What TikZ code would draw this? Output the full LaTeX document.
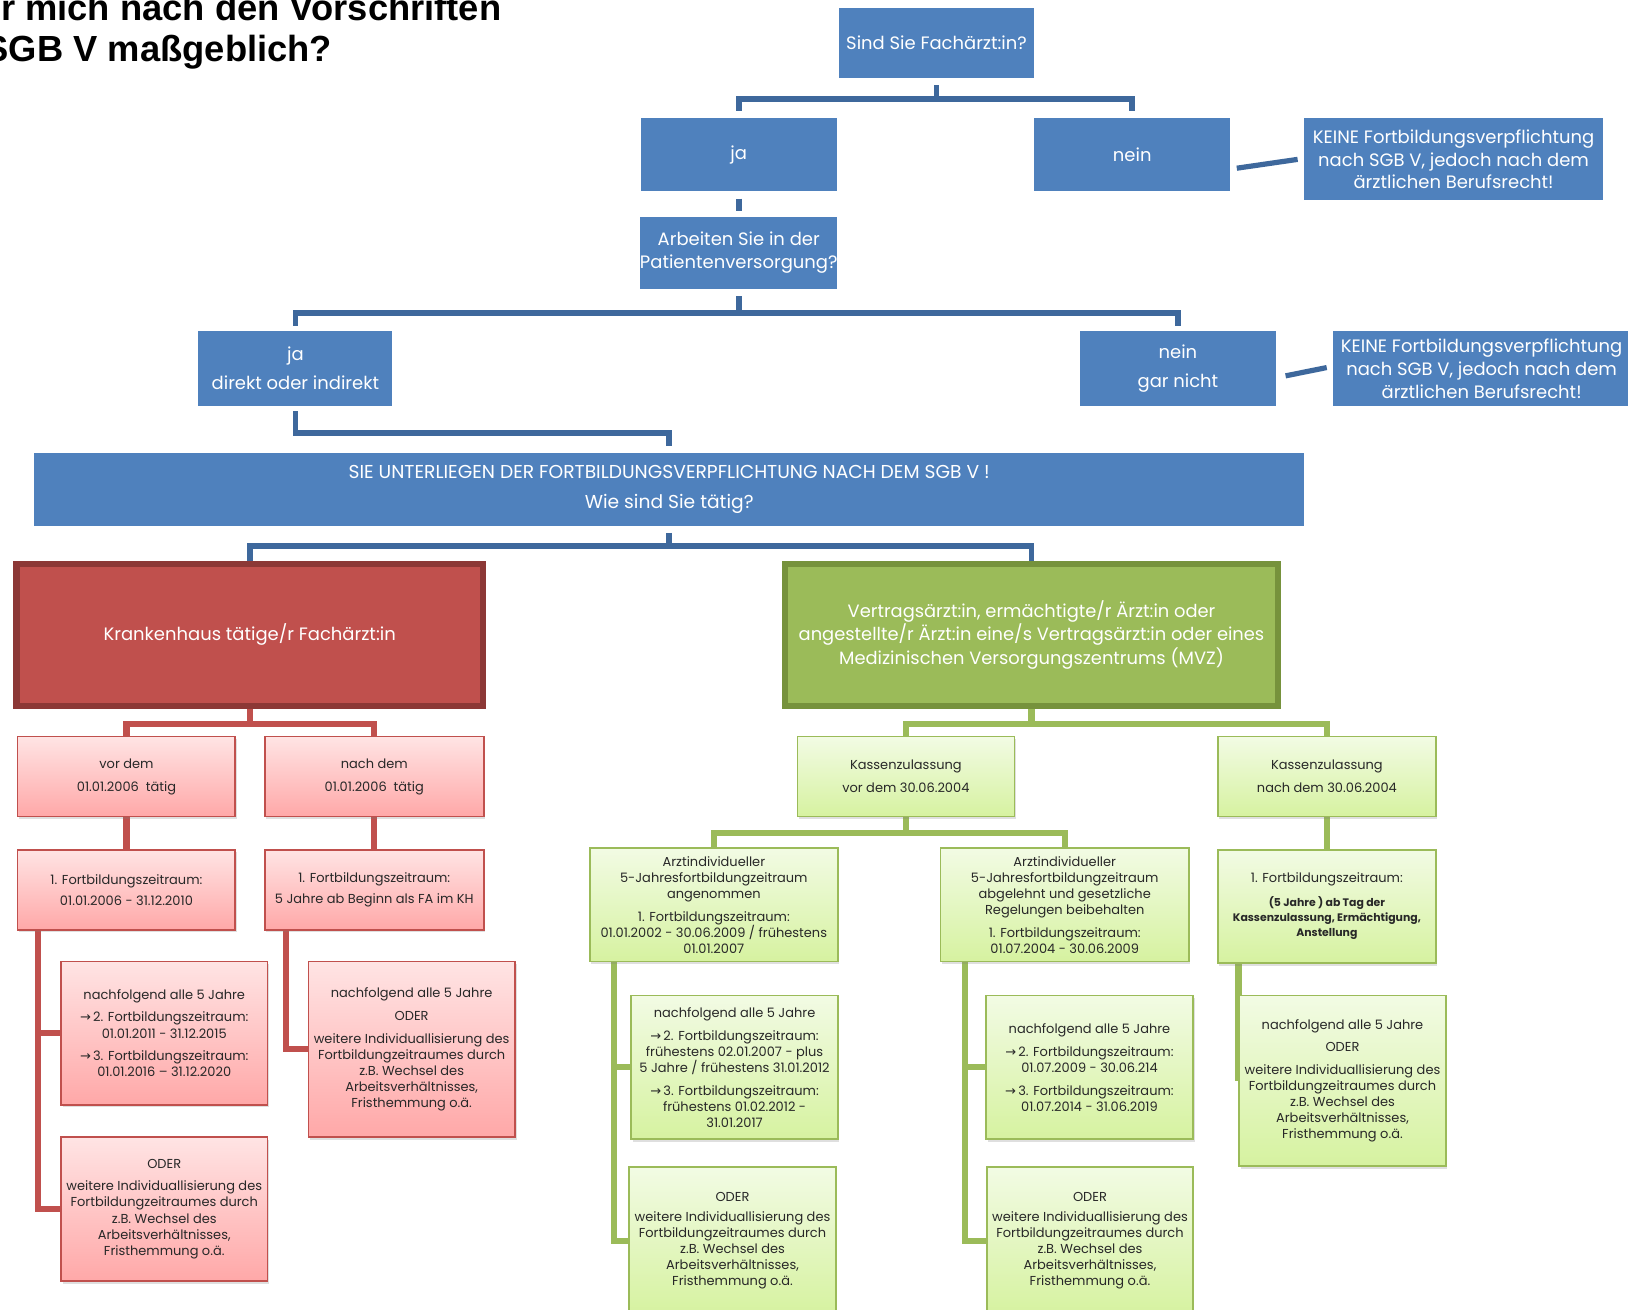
\documentclass[tikz,border=0pt]{standalone}
\usepackage{fontspec}
\setmainfont{Poppins}
\newfontfamily\titlefont{Liberation Sans}
\newfontfamily\symfont{DejaVu Sans}
\usetikzlibrary{shadows,backgrounds,calc}
\definecolor{bfill}{RGB}{79,129,189}
\definecolor{bline}{RGB}{62,104,156}
\definecolor{rfill}{RGB}{192,80,77}
\definecolor{rdark}{RGB}{140,56,54}
\definecolor{gfill}{RGB}{155,187,89}
\definecolor{gdark}{RGB}{118,146,60}
\definecolor{rtop}{RGB}{255,228,228}
\definecolor{rbot}{RGB}{255,168,168}
\definecolor{gtop}{RGB}{242,251,228}
\definecolor{gbot}{RGB}{214,242,160}
\definecolor{txt}{RGB}{40,40,40}
\newcommand\fblue{\fontsize{17.3}{22}\selectfont}
\newcommand\fsie{\fontsize{18}{22}\selectfont}
\newcommand\fgbig{\fontsize{17.2}{23}\selectfont}
\newcommand\fsm{\fontsize{12.5}{15.5}\selectfont}
\newcommand\fsmg{\fontsize{12.5}{14.5}\selectfont}
\newcommand\fsmb{\fontsize{10.5}{14.5}\selectfont\bfseries}
\newcommand\myarrow{{\symfont →}\,}
\begin{document}
\begin{tikzpicture}[x=1pt,y=-1pt,
  wh/.style 2 args={minimum width=#1,minimum height=#2},
  bbox/.style={fill=bfill,text=white,font=\fblue,align=center,inner sep=0pt},
  rbigbox/.style={fill=rfill,draw=rdark,line width=6pt,text=white,font=\fblue,align=center,inner sep=0pt},
  gbigbox/.style={fill=gfill,draw=gdark,line width=6pt,text=white,font=\fgbig,align=center,inner sep=0pt},
  rsm/.style={top color=rtop,bottom color=rbot,draw=rfill,line width=1.5pt,text=txt,font=\fsm,align=center,inner sep=0pt,
    drop shadow={shadow xshift=1.5pt,shadow yshift=-2.5pt,opacity=0.25}},
  gsm/.style={top color=gtop,bottom color=gbot,draw=gfill,line width=1.5pt,text=txt,font=\fsm,align=center,inner sep=0pt,
    drop shadow={shadow xshift=1.5pt,shadow yshift=-2.5pt,opacity=0.25}},
  bl/.style={draw=bline,line width=5.5pt},
  rl/.style={draw=rfill,line width=6pt},
  gl/.style={draw=gfill,line width=6pt}]
\useasboundingbox (0,0) rectangle (1568,1261);

% title
\node[font=\titlefont\bfseries\fontsize{35}{40}\selectfont,anchor=base east,inner sep=0pt] (t1) at (483,20) {r mich nach den Vorschriften};
\node[font=\titlefont\bfseries\fontsize{35}{40}\selectfont,anchor=base east,inner sep=0pt] (t2) at (320,59.5) {SGB V maßgeblich?};

% blue part
\node[bbox,wh={188pt}{67pt}] (q1) at (902,41.5) {Sind Sie Fachärzt:in?};
\node[bbox,wh={189pt}{70pt}] (ja1) at (711.5,149) {ja};
\node[bbox,wh={189pt}{70pt}] (nein1) at (1090.5,149) {nein};
\node[bbox,wh={288pt}{79pt}] (keine1) at (1400,153.5) {KEINE Fortbildungsverpflichtung\\nach SGB V, jedoch nach dem\\ärztlichen Berufsrecht!};
\node[bbox,wh={189pt}{69pt}] (arb) at (711.5,243.5) {Arbeiten Sie in der\\Patientenversorgung?};
\node[bbox,wh={187pt}{72pt}] (ja2) at (284.5,355) {ja\\[6pt]direkt oder indirekt};
\node[bbox,wh={189pt}{72pt}] (nein2) at (1134.5,355) {nein\\[6pt]gar nicht};
\node[bbox,wh={286pt}{72pt}] (keine2) at (1427,355) {KEINE Fortbildungsverpflichtung\\nach SGB V, jedoch nach dem\\ärztlichen Berufsrecht!};
\node[bbox,font=\fsie,wh={1223pt}{71pt}] (sie) at (644.5,471.5) {SIE UNTERLIEGEN DER FORTBILDUNGSVERPFLICHTUNG NACH DEM SGB V !\\[7pt]Wie sind Sie tätig?};

% big boxes
\node[rbigbox,wh={449pt}{137pt}] (rb) at (240.5,611.5) {Krankenhaus tätige/r Fachärzt:in};
\node[gbigbox,wh={475pt}{137pt}] (gb) at (993.5,611.5) {Vertragsärzt:in, ermächtigte/r Ärzt:in oder\\angestellte/r Ärzt:in eine/s Vertragsärzt:in oder eines\\Medizinischen Versorgungszentrums (MVZ)};

% red column
\node[rsm,wh={209.6pt}{77pt}] (r1) at (121.8,748) {vor dem\\[6.5pt]01.01.2006\ \ tätig};
\node[rsm,wh={211pt}{77pt}] (r2) at (360.5,748) {nach dem\\[6.5pt]01.01.2006\ \ tätig};
\node[rsm,wh={209.6pt}{77pt}] (r3) at (121.8,857) {1. Fortbildungszeitraum:\\[5pt]01.01.2006 - 31.12.2010};
\node[rsm,wh={211pt}{77pt}] (r4) at (360.5,857) {1. Fortbildungszeitraum:\\[5pt]5 Jahre ab Beginn als FA im KH};
\node[rsm,wh={199pt}{138pt}] (r5) at (158.2,995) {nachfolgend alle 5 Jahre\\[6.5pt]\myarrow 2. Fortbildungszeitraum:\\01.01.2011 - 31.12.2015\\[6.5pt]\myarrow 3. Fortbildungszeitraum:\\01.01.2016 – 31.12.2020};
\node[rsm,wh={199pt}{139pt}] (r6) at (158.2,1164.5) {ODER\\[6pt]weitere Individuallisierung des\\Fortbildungzeitraumes durch\\z.B. Wechsel des\\Arbeitsverhältnisses,\\Fristhemmung o.ä.};
\node[rsm,wh={199pt}{169pt}] (r7) at (396.5,1010.5) {nachfolgend alle 5 Jahre\\[6.5pt]ODER\\[6.5pt]weitere Individuallisierung des\\Fortbildungzeitraumes durch\\z.B. Wechsel des\\Arbeitsverhältnisses,\\Fristhemmung o.ä.};

% green column
\node[gsm,wh={209pt}{77pt}] (g1) at (872.5,748) {Kassenzulassung\\[6.5pt]vor dem 30.06.2004};
\node[gsm,wh={210pt}{77pt}] (g2) at (1278,748) {Kassenzulassung\\[6.5pt]nach dem 30.06.2004};
\node[gsm,wh={239pt}{109pt}] (gA) at (687.5,871.5) {Arztindividueller\\5-Jahresfortbildungzeitraum\\angenommen\\[6.5pt]1. Fortbildungszeitraum:\\01.01.2002 - 30.06.2009 / frühestens\\01.01.2007};
\node[gsm,wh={239pt}{109pt}] (gB) at (1025.5,871.5) {Arztindividueller\\5-Jahresfortbildungzeitraum\\abgelehnt und gesetzliche\\Regelungen beibehalten\\[6.5pt]1. Fortbildungszeitraum:\\01.07.2004 - 30.06.2009};
\node[gsm,wh={199pt}{138pt}] (gC) at (707.5,1028) {nachfolgend alle 5 Jahre\\[6.5pt]\myarrow 2. Fortbildungszeitraum:\\frühestens 02.01.2007 - plus\\5 Jahre / frühestens 31.01.2012\\[6.5pt]\myarrow 3. Fortbildungszeitraum:\\frühestens 01.02.2012 -\\31.01.2017};
\node[gsm,wh={199.4pt}{138pt}] (gD) at (1049.3,1028) {nachfolgend alle 5 Jahre\\[6.5pt]\myarrow 2. Fortbildungszeitraum:\\01.07.2009 - 30.06.214\\[6.5pt]\myarrow 3. Fortbildungszeitraum:\\01.07.2014 - 31.06.2019};
\node[gsm,wh={199pt}{142pt}] (gE) at (705.5,1195) {ODER\\[4pt]weitere Individuallisierung des\\Fortbildungzeitraumes durch\\z.B. Wechsel des\\Arbeitsverhältnisses,\\Fristhemmung o.ä.};
\node[gsm,wh={198pt}{142pt}] (gF) at (1049.8,1195) {ODER\\[4pt]weitere Individuallisierung des\\Fortbildungzeitraumes durch\\z.B. Wechsel des\\Arbeitsverhältnisses,\\Fristhemmung o.ä.};
\node[gsm,font=\fsmg,wh={210pt}{109pt}] (g3) at (1278,873) {1. Fortbildungszeitraum:\\[8.5pt]\fsmb (5 Jahre ) ab Tag der\\\fsmb Kassenzulassung, Ermächtigung,\\\fsmb Anstellung};
\node[gsm,wh={199pt}{164pt}] (g4) at (1293,1041) {nachfolgend alle 5 Jahre\\[6pt]ODER\\[6pt]weitere Individuallisierung des\\Fortbildungzeitraumes durch\\z.B. Wechsel des\\Arbeitsverhältnisses,\\Fristhemmung o.ä.};

\begin{pgfonlayer}{background}
\fill[white] (0,0) rectangle (1568,1261);
% blue connectors
\draw[bl] ([yshift=-7pt]q1.south) -- ([yshift=-20pt]q1.south);
\draw[bl] ([yshift=7pt]ja1.north) |- ([yshift=-20pt]q1.south) -| ([yshift=7pt]nein1.north);
\draw[bl] ([yshift=-7pt]ja1.south) -- ([yshift=6pt]arb.north);
\draw[bl] ([yshift=-7pt]arb.south) -- ([yshift=-23pt]arb.south);
\draw[bl] ([yshift=5pt]ja2.north) |- ([yshift=-23pt]arb.south) -| ([yshift=5pt]nein2.north);
\draw[bl] ([yshift=-5pt]ja2.south) |- ([yshift=19pt]sie.north) -- ([yshift=6pt]sie.north);
\draw[bl,line width=5pt] ([xshift=6pt,yshift=-13pt]nein1.east) -- ([xshift=-6pt]keine1.west);
\draw[bl,line width=5pt] ([xshift=9pt,yshift=-7pt]nein2.east) -- ([xshift=-6pt,yshift=1pt]keine2.west);
\draw[bl] ([yshift=-6pt]sie.south) -- ([yshift=-19pt]sie.south);
\draw[bl] (rb.north) |- ([yshift=-19pt]sie.south) -| (gb.north);
% red connectors
\draw[rl] (rb.south) -- ([yshift=-14.5pt]rb.south);
\draw[rl] (r1.north) |- ([yshift=-14.5pt]rb.south) -| (r2.north);
\draw[rl] (r1.south) -- (r3.north);
\draw[rl] (r2.south) -- (r4.north);
\draw[rl] ([xshift=20pt]r3.south west) |- (r6.west);
\draw[rl] ([xshift=20pt]r3.south west) |- (r5.west);
\draw[rl] ([xshift=21pt]r4.south west) |- (r7.west);
% green connectors
\draw[gl] (gb.south) -- ([yshift=-14.5pt]gb.south);
\draw[gl] (g1.north) |- ([yshift=-14.5pt]gb.south) -| (g2.north);
\draw[gl] (g1.south) -- ([yshift=-15pt]g1.south);
\draw[gl] (gA.north) |- ([yshift=-15pt]g1.south) -| (gB.north);
\draw[gl] ([xshift=24pt]gA.south west) |- (gE.west);
\draw[gl] ([xshift=24pt]gA.south west) |- (gC.west);
\draw[gl] ([xshift=24pt]gB.south west) |- (gF.west);
\draw[gl] ([xshift=24pt]gB.south west) |- (gD.west);
\draw[gl] (g2.south) -- (g3.north);
\draw[gl] ([xshift=20.5pt]g3.south west) |- (g4.west);
\end{pgfonlayer}
\end{tikzpicture}
\end{document}
